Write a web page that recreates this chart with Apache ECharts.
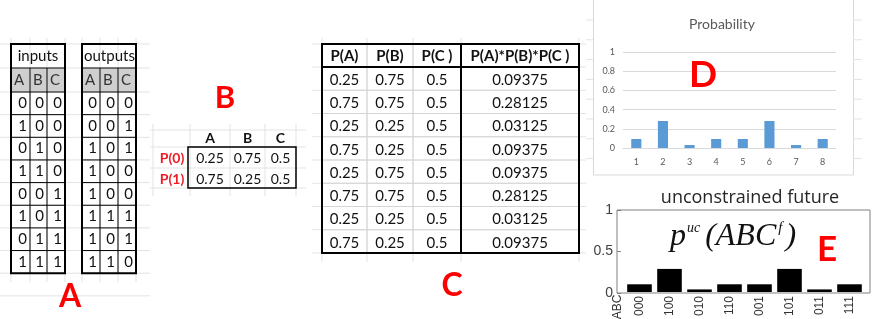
<!DOCTYPE html>
<html>
<head>
<meta charset="utf-8">
<script src="https://cdn.jsdelivr.net/npm/echarts@6/dist/echarts.min.js"></script>
<style>
  html, body { margin: 0; padding: 0; background: #fff; }
  #chart { width: 873px; height: 319px; }
</style>
</head>
<body>
<div id="chart"></div>
<script>
// ---- data ----
const inputStates = ['000', '100', '010', '110', '001', '101', '011', '111']
const outputStates = ['000', '001', '101', '100', '100', '111', '101', '110']
const stateLetters = ['A', 'B', 'C']

const margRowLabels = ['P(0)', 'P(1)']
const margValues = [[0.25, 0.75, 0.5], [0.75, 0.25, 0.5]]

const productHeaders = ['P(A)', 'P(B)', 'P(C )', 'P(A)*P(B)*P(C )']
const colPA = [0.25, 0.75, 0.25, 0.75, 0.25, 0.75, 0.25, 0.75]
const colPB = [0.75, 0.75, 0.25, 0.25, 0.75, 0.75, 0.25, 0.25]
const colPC = [0.5, 0.5, 0.5, 0.5, 0.5, 0.5, 0.5, 0.5]
const colProduct = [0.09375, 0.28125, 0.03125, 0.09375, 0.09375, 0.28125, 0.03125, 0.09375]

const probCategories = ['1', '2', '3', '4', '5', '6', '7', '8']
const probValues = [0.09375, 0.28125, 0.03125, 0.09375, 0.09375, 0.28125, 0.03125, 0.09375]

const futureStates = ['000', '100', '010', '110', '001', '101', '011', '111']
const futureValues = [0.09375, 0.28125, 0.03125, 0.09375, 0.09375, 0.28125, 0.03125, 0.09375]

const LATO = 'Lato, "Liberation Sans", sans-serif'
const ARIAL = '"Liberation Sans", Arial, sans-serif'
const SERIF = '"Liberation Serif", "DejaVu Serif", serif'
const RED = '#FF0000'

// ---- little drawing helpers ----
const line = (x1, y1, x2, y2, stroke, lineWidth = 1) => ({
  type: 'line', silent: true, z: 1,
  shape: { x1, y1, x2, y2 },
  style: { stroke, lineWidth },
})
const box = (x, y, width, height, fill, stroke, lineWidth = 1, z = 0) => ({
  type: 'rect', silent: true, z,
  shape: { x, y, width, height },
  style: { fill: fill || 'none', stroke: stroke || 'none', lineWidth },
})
const label = (x, y, str, size, opt = {}) => ({
  type: 'text', silent: true, z: 3, x, y,
  style: Object.assign({
    text: str, fontSize: size, fontFamily: LATO, fill: '#111',
    align: 'center', verticalAlign: 'middle',
    textAlign: 'center', textVerticalAlign: 'middle',
  }, opt),
})

const els = []

// faint spreadsheet gridlines
const faint = '#E3E3E3'
const rowA = 22.65
for (let i = 0; i <= 11; i++) {
  const y = 44 + (i === 0 ? 0 : i === 1 ? 24 : 48 + (i - 2) * rowA)
  els.push(line(0, y, 150, y, faint))
}
;[11, 30, 47, 65, 82, 100, 118, 136].forEach(x => els.push(line(x, 38, x, 282, faint)))
;[130, 147, 168, 188].forEach(y => els.push(line(150, y, 306, y, faint)))
;[153, 190, 230, 265, 296].forEach(x => els.push(line(x, 124, x, 196, faint)))
for (let i = 0; i <= 9; i++) {
  const y = i === 0 ? 44 : 67 + (i - 1) * 23.25
  els.push(line(312, y, 586, y, faint))
}
;[322, 367, 413, 461, 579].forEach(x => els.push(line(x, 38, x, 262, faint)))
for (let y = 20; y < 170; y += 19.8) {
  els.push(line(586, y, 593, y, faint))
  els.push(line(853, y, 862, y, faint))
}

// ---- panel A : inputs / outputs ----
function stateTable(cols, title, titleLeft, states) {
  const top = 44, h1 = 68, h2 = 92, bottom = 92 + 8 * rowA
  const left = cols[0], right = cols[3]
  els.push(box(left, top, right - left, bottom - top, '#fff', null, 1, 0.5))
  els.push(box(left, h1, right - left, h2 - h1, '#CFCFCF', null, 1, 0.6))
  els.push(titleLeft
    ? label(left + 2, (top + h1) / 2, title, 15, { align: 'left', textAlign: 'left' })
    : label((left + right) / 2, (top + h1) / 2, title, 15))
  stateLetters.forEach((l, j) => {
    els.push(label(cols[j] + 3, (h1 + h2) / 2, l, 15, { align: 'left', textAlign: 'left', fill: '#333' }))
  })
  states.forEach((s, i) => {
    s.split('').forEach((d, j) => {
      els.push(label(cols[j + 1] - 3, h2 + rowA * (i + 0.5), d, 15, { align: 'right', textAlign: 'right' }))
    })
  })
  els.push(line(left, h1, right, h1, '#000', 1))
  for (let i = 0; i < 8; i++) {
    const y = h2 + rowA * i
    els.push(line(left, y, right, y, '#000', 1))
  }
  els.push(line(cols[1], h1, cols[1], bottom, '#000', 1))
  els.push(line(cols[2], h1, cols[2], bottom, '#000', 1))
  els.push(box(left, top, right - left, bottom - top, null, '#000', 2, 2))
}
stateTable([11, 30, 47, 65], 'inputs', false, inputStates)
stateTable([82, 100, 118, 136], 'outputs', true, outputStates)
els.push(label(70, 297, 'A', 32, { fill: RED, fontWeight: 'bold' }))

// ---- panel B : marginals ----
const bCols = [190, 230, 265, 296]
stateLetters.forEach((l, j) => {
  els.push(label((bCols[j] + bCols[j + 1]) / 2, 138, l, 14, { fontWeight: 'bold' }))
})
margRowLabels.forEach((r, i) => {
  const y = 158 + i * 21
  els.push(label(172, y, r, 14, { fill: '#EE1C25', fontWeight: 'bold' }))
  margValues[i].forEach((v, j) => {
    els.push(label((bCols[j] + bCols[j + 1]) / 2, y, String(v), 14))
  })
})
els.push(box(188, 147, 108, 41, null, '#000', 1.5, 2))
els.push(label(225, 98, 'B', 31, { fill: RED, fontWeight: 'bold' }))

// ---- panel C : products ----
const cCols = [322, 367, 413, 461, 579]
const cRow = 23.25
els.push(box(322, 44, 257, 209, '#fff', null, 1, 0.5))
productHeaders.forEach((h, j) => {
  els.push(label((cCols[j] + cCols[j + 1]) / 2, 56, h, 15, { fontWeight: 'bold' }))
})
const cColumns = [colPA, colPB, colPC, colProduct]
for (let i = 0; i < 8; i++) {
  const y = 67 + cRow * (i + 0.5) + 1.5
  cColumns.forEach((col, j) => {
    els.push(label((cCols[j] + cCols[j + 1]) / 2, y, String(col[i]), 15))
  })
  if (i > 0) els.push(line(322, 67 + cRow * i, 579, 67 + cRow * i, '#D4D4D4', 1))
}
els.push(line(367, 44, 367, 253, '#D4D4D4', 1))
els.push(line(413, 44, 413, 253, '#D4D4D4', 1))
els.push(line(461, 44, 461, 253, '#000', 2))
els.push(line(322, 67, 579, 67, '#000', 2))
els.push(box(322, 44, 257, 209, null, '#000', 2, 2))
els.push(label(452, 286, 'C', 32, { fill: RED, fontWeight: 'bold' }))

// ---- panel D : Excel chart frame, title, letter ----
els.push(box(593.5, -1, 260, 176, null, '#D9D9D9', 1, 0))
els.push(label(722, 24, 'Probability', 14, { fill: '#595959' }))
els.push(label(703, 75, 'D', 37, { fill: RED, fontWeight: 'bold' }))

// ---- panel E : title, formula, letter ----
els.push(label(750, 198, 'unconstrained future', 18, { fontFamily: '"Open Sans", sans-serif', fill: '#262626' }))
const mathMain = { fontFamily: SERIF, fontStyle: 'italic', fontSize: 32, lineHeight: 32, fill: '#111' }
els.push(label(733, 237, '{p|p}{s1|uc}{n|(ABC}{s2|f}{n|)}', 32, {
  fontFamily: SERIF, fill: '#111',
  rich: {
    p: mathMain,
    n: mathMain,
    s1: { fontFamily: SERIF, fontStyle: 'italic', fontSize: 14, lineHeight: 12, verticalAlign: 'top', padding: [0, 5, 0, 1], fill: '#111' },
    s2: { fontFamily: SERIF, fontStyle: 'italic', fontSize: 15, lineHeight: 12, verticalAlign: 'top', padding: [0, 3, 0, 2], fill: '#111' },
  },
}))
els.push(label(827, 250, 'E', 35, { fill: RED, fontWeight: 'bold' }))
els.push({
  type: 'text', silent: true, z: 3, x: 618, y: 307, rotation: Math.PI / 2,
  style: {
    text: 'ABC', fontSize: 12, fontFamily: ARIAL, fill: '#333',
    align: 'center', verticalAlign: 'middle', textAlign: 'center', textVerticalAlign: 'middle',
  },
})

const chart = echarts.init(document.getElementById('chart'))
chart.setOption({
  animation: false,
  grid: [
    { left: 623, top: 52, width: 213, height: 96 },
    { left: 617, top: 210, width: 253, height: 83, show: true, borderColor: '#808080', borderWidth: 1, backgroundColor: 'transparent' },
    { left: 624.5, top: 210, width: 240, height: 83 },
  ],
  xAxis: [
    {
      gridIndex: 0, type: 'category', data: probCategories,
      axisLine: { lineStyle: { color: '#D9D9D9' } },
      axisTick: { show: false },
      axisLabel: { color: '#595959', fontSize: 9, margin: 10, fontFamily: LATO },
    },
    { gridIndex: 1, type: 'value', min: 0, max: 1, show: false },
    {
      gridIndex: 2, type: 'category', data: futureStates,
      axisLine: { show: false }, axisTick: { show: false },
      axisLabel: { rotate: 90, fontSize: 12, margin: 4, color: '#333', fontFamily: ARIAL },
    },
  ],
  yAxis: [
    {
      gridIndex: 0, type: 'value', min: 0, max: 1, interval: 0.2,
      axisLine: { show: false }, axisTick: { show: false },
      axisLabel: { color: '#595959', fontSize: 9, margin: 8, fontFamily: LATO },
      splitLine: { lineStyle: { color: '#D9D9D9' } },
    },
    {
      gridIndex: 1, type: 'value', min: 0, max: 1, interval: 0.5,
      axisLine: { show: false },
      axisTick: { inside: true, length: 4, lineStyle: { color: '#808080' } },
      axisLabel: { color: '#404040', fontSize: 14, margin: 4, fontFamily: ARIAL },
      splitLine: { show: false },
    },
    { gridIndex: 2, type: 'value', min: 0, max: 1, show: false },
  ],
  series: [
    {
      type: 'bar', xAxisIndex: 0, yAxisIndex: 0, data: probValues,
      barWidth: '38%', itemStyle: { color: '#5B9BD5' }, silent: true,
    },
    {
      type: 'bar', xAxisIndex: 2, yAxisIndex: 2, data: futureValues,
      barWidth: '82%', itemStyle: { color: '#000' }, silent: true,
    },
  ],
  graphic: { elements: els },
})
</script>
</body>
</html>
